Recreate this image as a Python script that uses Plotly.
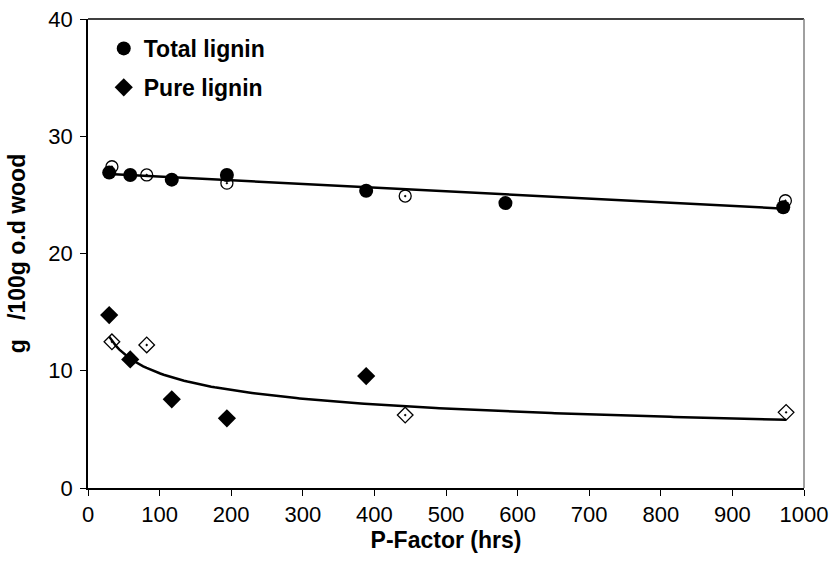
import numpy as np
import plotly.graph_objects as go

# Total lignin (filled circles) and second set (open circles)
total_x = [29.6, 59, 117, 194, 388.5, 583, 971]
total_y = [26.9, 26.7, 26.3, 26.7, 25.35, 24.3, 23.95]
total2_x = [33.4, 82, 194, 443, 974]
total2_y = [27.4, 26.7, 26.0, 24.9, 24.5]

# Pure lignin (filled diamonds) and second set (open diamonds)
pure_x = [29.6, 59, 117, 194, 388.5]
pure_y = [14.75, 10.97, 7.56, 5.94, 9.55]
pure2_x = [33.4, 82, 443, 975]
pure2_y = [12.47, 12.2, 6.22, 6.45]

x_ticks = list(range(0, 1001, 100))
y_ticks = list(range(0, 41, 10))

# Trendlines fitted from the data
tx = np.array(total_x + total2_x)
ty = np.array(total_y + total2_y)
lin = np.polyfit(tx, ty, 1)
t_line_x = np.linspace(tx.min(), tx.max(), 50)
t_line_y = np.polyval(lin, t_line_x)

px_ = np.array(pure_x + pure2_x)
py_ = np.array(pure_y + pure2_y)
pw = np.polyfit(np.log(px_), np.log(py_), 1)
p_line_x = np.linspace(px_.min(), px_.max(), 200)
p_line_y = np.exp(np.polyval(pw, np.log(p_line_x)))

FONT = "Liberation Sans, Arial, sans-serif"
fig = go.Figure()

fig.add_trace(go.Scatter(x=t_line_x, y=t_line_y, mode="lines",
                         line=dict(color="black", width=2.5), showlegend=False, hoverinfo="skip"))
fig.add_trace(go.Scatter(x=p_line_x, y=p_line_y, mode="lines",
                         line=dict(color="black", width=2.5), showlegend=False, hoverinfo="skip"))

fig.add_trace(go.Scatter(x=total2_x, y=total2_y, mode="markers", showlegend=False,
                         marker=dict(symbol="circle-open-dot", size=12, color="black",
                                     line=dict(width=1.3, color="black"))))
fig.add_trace(go.Scatter(x=pure2_x, y=pure2_y, mode="markers", showlegend=False,
                         marker=dict(symbol="diamond-open-dot", size=12, color="black",
                                     line=dict(width=1.3, color="black"))))

fig.add_trace(go.Scatter(x=total_x, y=total_y, mode="markers", name="Total lignin",
                         legendgroup="a",
                         marker=dict(symbol="circle", size=14, color="black")))
fig.add_trace(go.Scatter(x=pure_x, y=pure_y, mode="markers", name="Pure lignin",
                         legendgroup="b",
                         marker=dict(symbol="diamond", size=14, color="black")))

axis_common = dict(showgrid=False, zeroline=False, showline=True, linecolor="black",
                   linewidth=1.5, ticks="outside", ticklen=6, tickcolor="black",
                   tickwidth=1, automargin=False,
                   tickfont=dict(family=FONT, size=22, color="black"))

fig.update_xaxes(range=[0, 1000], tickvals=x_ticks, ticktext=[str(v) for v in x_ticks],
                 title=dict(text="<b>P-Factor (hrs)</b>", font=dict(family=FONT, size=23, color="black"),
                            standoff=0),
                 **axis_common)
fig.update_yaxes(range=[0, 40], tickvals=y_ticks, ticktext=[str(v) for v in y_ticks],
                 ticklabelstandoff=3,
                 title=dict(text="<b>g\u00a0\u00a0\u00a0/100g o.d wood</b>",
                            font=dict(family=FONT, size=23, color="black"),
                            standoff=16),
                 **axis_common)

# top and right plot-area border
fig.add_shape(type="line", xref="paper", yref="paper", x0=0, x1=1, y0=1, y1=1,
              line=dict(color="black", width=1.5))
fig.add_shape(type="line", xref="paper", yref="paper", x0=1, x1=1, y0=0, y1=1,
              line=dict(color="#808080", width=1.5))

fig.update_layout(
    width=832, height=576,
    margin=dict(l=88, r=28, t=19, b=88),
    plot_bgcolor="white", paper_bgcolor="white",
    font=dict(family=FONT, color="black"),
    legend=dict(x=0.022, y=0.983, xanchor="left", yanchor="top",
                font=dict(family=FONT, size=23, color="black", weight="bold"),
                tracegroupgap=6, bgcolor="rgba(0,0,0,0)"),
)

fig.write_html("out.html")
